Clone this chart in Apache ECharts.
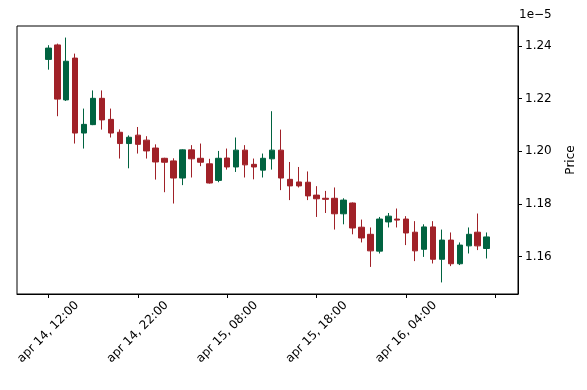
<!DOCTYPE html>
<html>
<head>
<meta charset="utf-8">
<script src="https://cdn.jsdelivr.net/npm/echarts@6/dist/echarts.min.js"></script>
<style>
html,body{margin:0;padding:0;background:#fff;}
#chart{width:587px;height:390px;}
</style>
</head>
<body>
<div id="chart"></div>
<script>
// Prices in units of 1e-5; one candle per hour starting apr 14, 12:00
const opens  = [1.2349,1.2404,1.2195,1.2354,1.2069,1.2101,1.2201,1.2121,1.2072,1.2029,
                1.2061,1.2042,1.2012,1.1973,1.1963,1.1898,1.2005,1.1973,1.1952,1.1889,
                1.1974,1.1940,1.2004,1.1950,1.1928,1.1971,1.2004,1.1893,1.1883,1.1882,
                1.1833,1.1821,1.1821,1.1762,1.1803,1.1711,1.1684,1.1620,1.1731,1.1742,
                1.1742,1.1692,1.1627,1.1712,1.1589,1.1662,1.1572,1.1640,1.1692,1.1630];
const closes = [1.2392,1.2198,1.2342,1.2069,1.2102,1.2201,1.2119,1.2069,1.2029,1.2053,
                1.2026,1.2001,1.1959,1.1958,1.1898,1.2005,1.1971,1.1958,1.1879,1.1973,
                1.1940,1.2004,1.1948,1.1940,1.1973,1.2004,1.1898,1.1868,1.1868,1.1830,
                1.1819,1.1817,1.1762,1.1814,1.1708,1.1670,1.1621,1.1742,1.1753,1.1738,
                1.1689,1.1621,1.1712,1.1589,1.1662,1.1572,1.1643,1.1684,1.1640,1.1674];
const lows   = [1.2310,1.2133,1.2191,1.2029,1.2010,1.2099,1.2082,1.2052,1.1972,1.1935,
                1.1991,1.1972,1.1892,1.1844,1.1801,1.1871,1.1900,1.1943,1.1877,1.1882,
                1.1930,1.1921,1.1900,1.1893,1.1900,1.1930,1.1852,1.1814,1.1862,1.1814,
                1.1750,1.1765,1.1702,1.1722,1.1684,1.1653,1.1560,1.1611,1.1710,1.1710,
                1.1643,1.1582,1.1598,1.1573,1.1501,1.1563,1.1567,1.1611,1.1624,1.1592];
const highs  = [1.2403,1.2409,1.2432,1.2371,1.2162,1.2231,1.2231,1.2162,1.2083,1.2060,
                1.2092,1.2057,1.2026,1.1975,1.1973,1.2007,1.2023,1.2029,1.1971,1.2001,
                1.2010,1.2052,1.2023,1.1972,1.1991,1.2152,1.2082,1.1959,1.1940,1.1923,
                1.1867,1.1849,1.1862,1.1821,1.1805,1.1740,1.1710,1.1750,1.1765,1.1782,
                1.1753,1.1734,1.1722,1.1734,1.1702,1.1691,1.1653,1.1710,1.1763,1.1691];
const xTickPositions = [0, 10, 20, 30, 40, 50];
const xTickLabels = ['apr 14, 12:00', 'apr 14, 22:00', 'apr 15, 08:00', 'apr 15, 18:00', 'apr 16, 04:00', ''];
const yTicks = [1.16, 1.18, 1.20, 1.22, 1.24];

const candles = opens.map((o, i) => [i, o, closes[i], lows[i], highs[i]]);
const FONT = 'DejaVu Sans';

const chart = echarts.init(document.getElementById('chart'), null, {renderer: 'canvas'});
chart.setOption({
  animation: false,
  backgroundColor: '#ffffff',
  grid: {left: 17, right: 69, top: 26, bottom: 96, show: true, borderColor: '#000', borderWidth: 1, backgroundColor: 'transparent'},
  xAxis: {
    type: 'value', min: -3.5, max: 52.5,
    splitLine: {show: false},
    axisLine: {show: true, onZero: false, lineStyle: {color: '#000', width: 1}},
    axisTick: {show: true, inside: false, customValues: xTickPositions, length: 4, lineStyle: {color: '#000'}},
    axisLabel: {
      customValues: xTickPositions,
      formatter: v => { const k = xTickPositions.indexOf(Math.round(v)); return k >= 0 ? xTickLabels[k] : ''; },
      rotate: 45, align: 'center', verticalAlign: 'middle', margin: 38,
      color: '#000', fontFamily: FONT, fontSize: 12
    }
  },
  yAxis: {
    type: 'value', position: 'right', min: 1.1457, max: 1.2476, scale: true,
    splitLine: {show: false},
    axisLine: {show: true, onZero: false, lineStyle: {color: '#000', width: 1}},
    axisTick: {show: true, inside: false, customValues: yTicks, length: 4, lineStyle: {color: '#000'}},
    axisLabel: {customValues: yTicks, formatter: v => v.toFixed(2), margin: 7, color: '#000', fontFamily: FONT, fontSize: 12},
    name: 'Price', nameLocation: 'middle', nameRotate: 90, nameGap: 47,
    nameTextStyle: {color: '#000', fontFamily: FONT, fontSize: 12}
  },
  series: [{
    type: 'candlestick',
    data: candles,
    encode: {x: 0, y: [1, 2, 3, 4]},
    barWidth: 6,
    itemStyle: {color: '#006340', color0: '#a02128', borderColor: '#006340', borderColor0: '#a02128', borderWidth: 1}
  }],
  graphic: [{
    type: 'text', left: 519, top: 9,
    style: {text: '1e\u22125', fill: '#000', font: '12px "DejaVu Sans"'}
  }]
});
</script>
</body>
</html>
